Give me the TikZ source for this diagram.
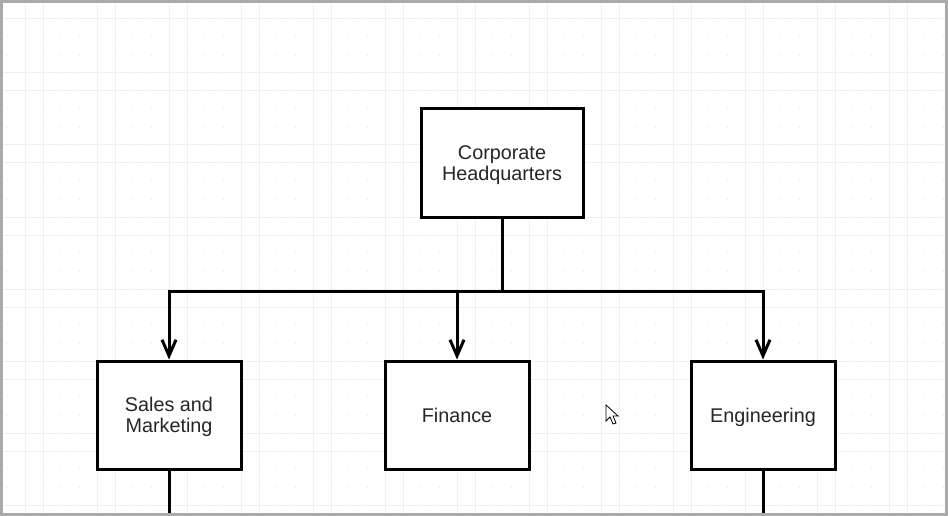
\documentclass[tikz,border=0pt]{standalone}
\usepackage{fontspec}
\setmainfont{Liberation Sans}
\usepackage{tikz}
\usetikzlibrary{arrows.meta}
\definecolor{framegray}{RGB}{170,170,170}
\definecolor{gridgray}{RGB}{240,240,240}
\definecolor{dotgray}{RGB}{238,238,238}

\begin{document}
\begin{tikzpicture}[x=1pt, y=-1pt,
    unitbox/.style={draw=black, line width=3pt, fill=white, minimum width=144pt, minimum height=108pt,
      align=center, inner sep=0pt, text depth=0pt, font=\fontsize{19.8}{21.5}\selectfont, text=black!85},
    trunk/.style={line width=3pt},
    link/.style={trunk, -{Straight Barb[length=16pt, width=14pt]}}]
    \useasboundingbox (0,0) rectangle (948,516);

    % Background grid (pairs of lines 18 apart, every 72)
    \fill[white] (0,0) rectangle (948,516);
    \foreach \gx in {25, 97, ..., 937} {
      \draw[gridgray, line width=1pt] (\gx,0) -- (\gx,516);
      \draw[gridgray, line width=1pt] (\gx+18,0) -- (\gx+18,516);
    }
    \foreach \gy in {1, 73, ..., 505} {
      \draw[gridgray, line width=1pt] (0,\gy) -- (948,\gy);
      \draw[gridgray, line width=1pt] (0,\gy+18) -- (948,\gy+18);
    }
    \foreach \gx in {7, 25, ..., 943} {
      \foreach \gy in {1, 19, ..., 511} {
        \fill[dotgray] (\gx,\gy) circle (0.8pt);
      }
    }

    % Units
    \node[unitbox, minimum width=162pt] (hq) at (502,163) {Corporate\\Headquarters};
    \node[unitbox] (sales) at (169,415) {Sales and\\Marketing};
    \node[unitbox] (finance) at (457,415) {Finance};
    \node[unitbox] (eng) at (763,415) {Engineering};

    % Connectors from headquarters
    \draw[link] (hq.south) -- ++(0,73) -| (sales.north);
    \draw[link] (hq.south) -- ++(0,73) -| (finance.north);
    \draw[link] (hq.south) -- ++(0,73) -| (eng.north);

    % Lines running off the bottom
    \coordinate (salesout) at (169,514);
    \coordinate (engout) at (763,514);
    \draw[trunk] (sales.south) -- (salesout);
    \draw[trunk] (eng.south) -- (engout);

    % Mouse pointer
    \draw[black, line width=0.8pt, fill=white, line join=miter]
      (606,405) -- (606,421) -- (610,417) -- (613,424) -- (616,423) -- (613,416) -- (618,416) -- cycle;

    % Frame
    \draw[framegray, line width=3pt] (1.5,1.5) rectangle (946.5,514.5);
  \end{tikzpicture}
\end{document}
